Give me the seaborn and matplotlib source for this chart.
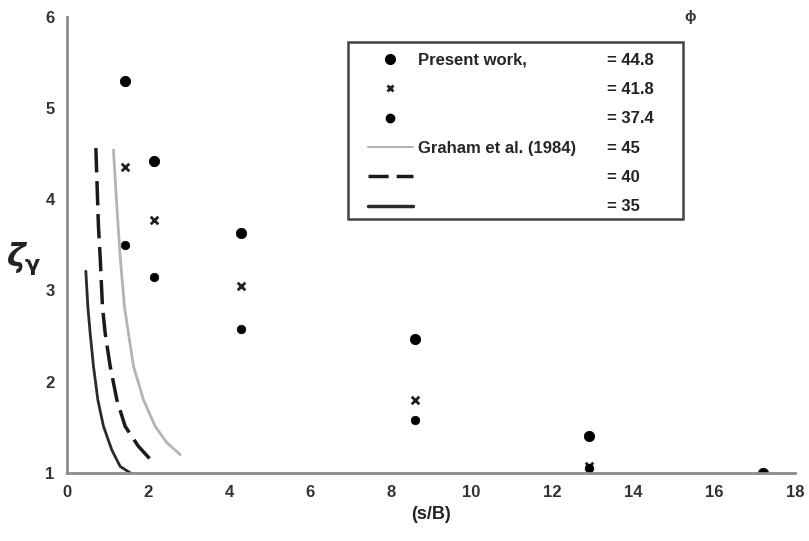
import matplotlib
matplotlib.use("Agg")
import matplotlib.pyplot as plt
from matplotlib.lines import Line2D
from matplotlib.patches import Rectangle
import seaborn as sns

# Present work (s/B positions and zeta_gamma for three friction angles)
sb = [1.43, 2.15, 4.30, 8.60, 12.90, 17.20]
pw_448 = [5.30, 4.42, 3.63, 2.47, 1.40, 1.00]
pw_418 = [4.35, 3.77, 3.05, 1.80, 1.07, 1.00]
pw_374 = [3.50, 3.15, 2.58, 1.58, 1.05, 1.00]

# Graham et al. (1984) curves
g45_x = [1.145, 1.229, 1.311, 1.417, 1.516, 1.639, 1.887, 2.176, 2.465, 2.794]
g45_y = [4.54, 3.92, 3.37, 2.82, 2.53, 2.17, 1.80, 1.51, 1.33, 1.20]
g40_x = [0.710, 0.774, 0.816, 0.873, 0.940, 1.063, 1.229, 1.434, 1.763, 2.134]
g40_y = [4.56, 3.70, 3.37, 2.82, 2.53, 2.17, 1.80, 1.51, 1.29, 1.11]
g35_x = [0.462, 0.512, 0.569, 0.650, 0.759, 0.898, 1.105, 1.311, 1.558]
g35_y = [3.21, 2.82, 2.53, 2.17, 1.80, 1.51, 1.25, 1.07, 1.00]

legend_texts = ["Present work,", " ", " ", "Graham et al. (1984)", " ", " "]
phi_labels = ["= 44.8", "= 41.8", "= 37.4", "= 45", "= 40", "= 35"]

sns.set_style("white")
plt.rcParams["font.family"] = ["Liberation Sans", "DejaVu Sans"]
plt.rcParams["font.weight"] = "bold"

fig = plt.figure(figsize=(8.09, 5.41), dpi=100)
ax = fig.add_axes([0.083, 0.126, 0.9, 0.843])

sns.lineplot(x=g45_x, y=g45_y, sort=False, estimator=None, color="#b4b4b4", lw=2, ax=ax)
sns.lineplot(x=g40_x, y=g40_y, sort=False, estimator=None, color="#1a1a1a", lw=2.5, ax=ax)
ax.lines[-1].set_dashes([7, 2.5])
sns.lineplot(x=g35_x, y=g35_y, sort=False, estimator=None, color="#2a2a2a", lw=2, ax=ax)

sns.scatterplot(x=sb, y=pw_448, marker="o", s=55, color="black", edgecolor="black", ax=ax)
sns.scatterplot(x=sb, y=pw_418, marker="x", s=30, color="#222222", linewidth=2, ax=ax)
sns.scatterplot(x=sb, y=pw_374, marker="o", s=38, color="black", edgecolor="black", ax=ax)

ax.set_xlim(0, 18)
ax.set_ylim(1, 6)
ax.set_xticks(range(0, 19, 2))
ax.set_yticks(range(1, 7))
for s in ["top", "right"]:
    ax.spines[s].set_visible(False)
for s in ["left", "bottom"]:
    ax.spines[s].set_color("#8c8c8c")
    ax.spines[s].set_linewidth(2)
ax.tick_params(axis="both", direction="out", length=4, width=1.2, color="#8c8c8c",
               labelsize=12, labelcolor="#333333", pad=5)
for lab in ax.get_xticklabels() + ax.get_yticklabels():
    lab.set_fontweight("bold")

ax.set_xlabel("(s/B)", fontsize=13, fontweight="bold", color="#222222", labelpad=4)
ax.set_ylabel(r"$\zeta_\mathrm{\gamma}$", fontsize=23, rotation=0, color="#222222",
              va="center")
ax.yaxis.set_label_coords(-0.060, 0.47)

# legend frame drawn by hand so the inner padding matches
ax.add_patch(Rectangle((0.386, 0.557), 0.46, 0.388, transform=ax.transAxes,
                       facecolor="white", edgecolor="#444444", lw=1.8, zorder=4))

handles = [
    Line2D([], [], ls="none", marker="o", ms=7, color="black"),
    Line2D([], [], ls="none", marker="x", ms=5, mew=2, color="#222222"),
    Line2D([], [], ls="none", marker="o", ms=6, color="black"),
    Line2D([], [], color="#b4b4b4", lw=1.5),
    Line2D([], [], color="#1a1a1a", lw=2.5, dashes=[5.8, 2.3]),
    Line2D([], [], color="#2a2a2a", lw=2.5),
]
leg = ax.legend(handles, legend_texts, loc="upper left",
                bbox_to_anchor=(0.413, 0.921), frameon=False, handlelength=2.7,
                handletextpad=0.3, labelspacing=0.86, borderaxespad=0, borderpad=0,
                prop={"weight": "bold", "size": 12})
leg.set_zorder(6)

fig.canvas.draw()
inv = ax.transAxes.inverted()
for t, lab in zip(leg.get_texts(), phi_labels):
    bb = t.get_window_extent()
    yc = inv.transform((0, (bb.y0 + bb.y1) / 2))[1]
    ax.text(0.742, yc, lab, transform=ax.transAxes, ha="left", va="center",
            fontsize=12, fontweight="bold", color="#222222", zorder=10)
ax.text(0.856, 1.0, "ϕ", transform=ax.transAxes, ha="center", va="center",
        fontsize=11, color="#333333")

fig.savefig("out.png", dpi=100)
